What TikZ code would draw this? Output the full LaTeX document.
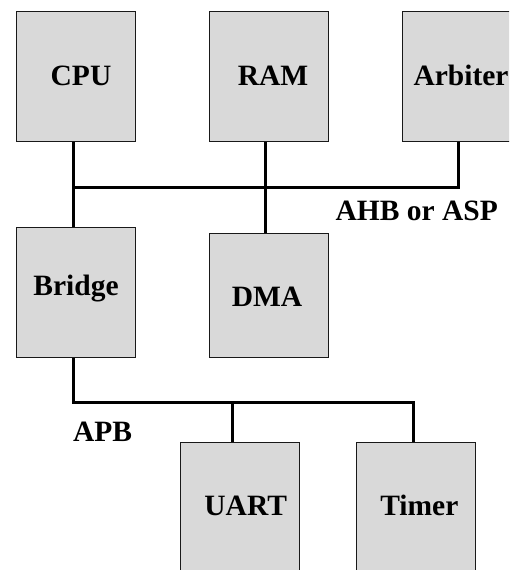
\documentclass[tikz,border=0pt]{standalone}
\usepackage{fontspec}
\setmainfont{Liberation Serif}
\begin{document}
\begin{tikzpicture}[x=1pt,y=-1pt,
  blockbox/.style={draw=black!90, fill=boxgray, line width=1.3pt, rectangle, inner sep=0pt, anchor=north west, minimum width=119pt},
  lbl/.style={anchor=base, inner sep=0pt, font=\fontsize{29.5}{32}\selectfont\bfseries},
  bus/.style={draw=black, line width=3pt}]
\definecolor{boxgray}{HTML}{D9D9D9}
\useasboundingbox (0,0) rectangle (509,570);
\clip (0,0) rectangle (509,570);
% boxes
\node[blockbox, minimum height=130pt] (cpu) at (16,11) {};
\node[blockbox, minimum height=130pt] (ram) at (209,11) {};
\node[blockbox, minimum height=130pt] (arb) at (402,11) {};
\node[blockbox, minimum height=130pt] (bridge) at (16,227) {};
\node[blockbox, minimum height=124.5pt] (dma) at (209,232.5) {};
\node[blockbox, minimum height=140pt] (uart) at (180,442) {};
\node[blockbox, minimum height=140pt] (timer) at (356,442) {};
% labels
\node[lbl] (tcpu) at (81,85.7) {CPU};
\node[lbl] (tram) at (273,85.7) {RAM};
\node[lbl] (tarb) at (461,85.7) {Arbiter};
\node[lbl] (tahb) at (416.7,220) {AHB or ASP};
\node[lbl] (tbridge) at (76,295) {Bridge};
\node[lbl] (tdma) at (267,306) {DMA};
\node[lbl] (tapb) at (102.5,441.7) {APB};
\node[lbl] (tuart) at (245.7,515.7) {UART};
\node[lbl] (ttimer) at (419.3,515.7) {Timer};
% bus coordinates
\coordinate (ahbL) at (73,187);
\coordinate (ahbM) at (265.5,187);
\coordinate (ahbR) at (458,187);
\coordinate (apbL) at (73,402);
\coordinate (apbU) at (232,402);
\coordinate (apbR) at (413,402);
% AHB
\draw[bus] (ahbL |- cpu.south) -- (ahbL |- bridge.north);
\draw[bus] (ahbM |- ram.south) -- (ahbM |- dma.north);
\draw[bus] (ahbL) -- (ahbR) -- (ahbR |- arb.south);
% APB
\draw[bus] (apbL |- bridge.south) -- (apbL) -- (apbR) -- (apbR |- timer.north);
\draw[bus] (apbU) -- (apbU |- uart.north);
\end{tikzpicture}
\end{document}
